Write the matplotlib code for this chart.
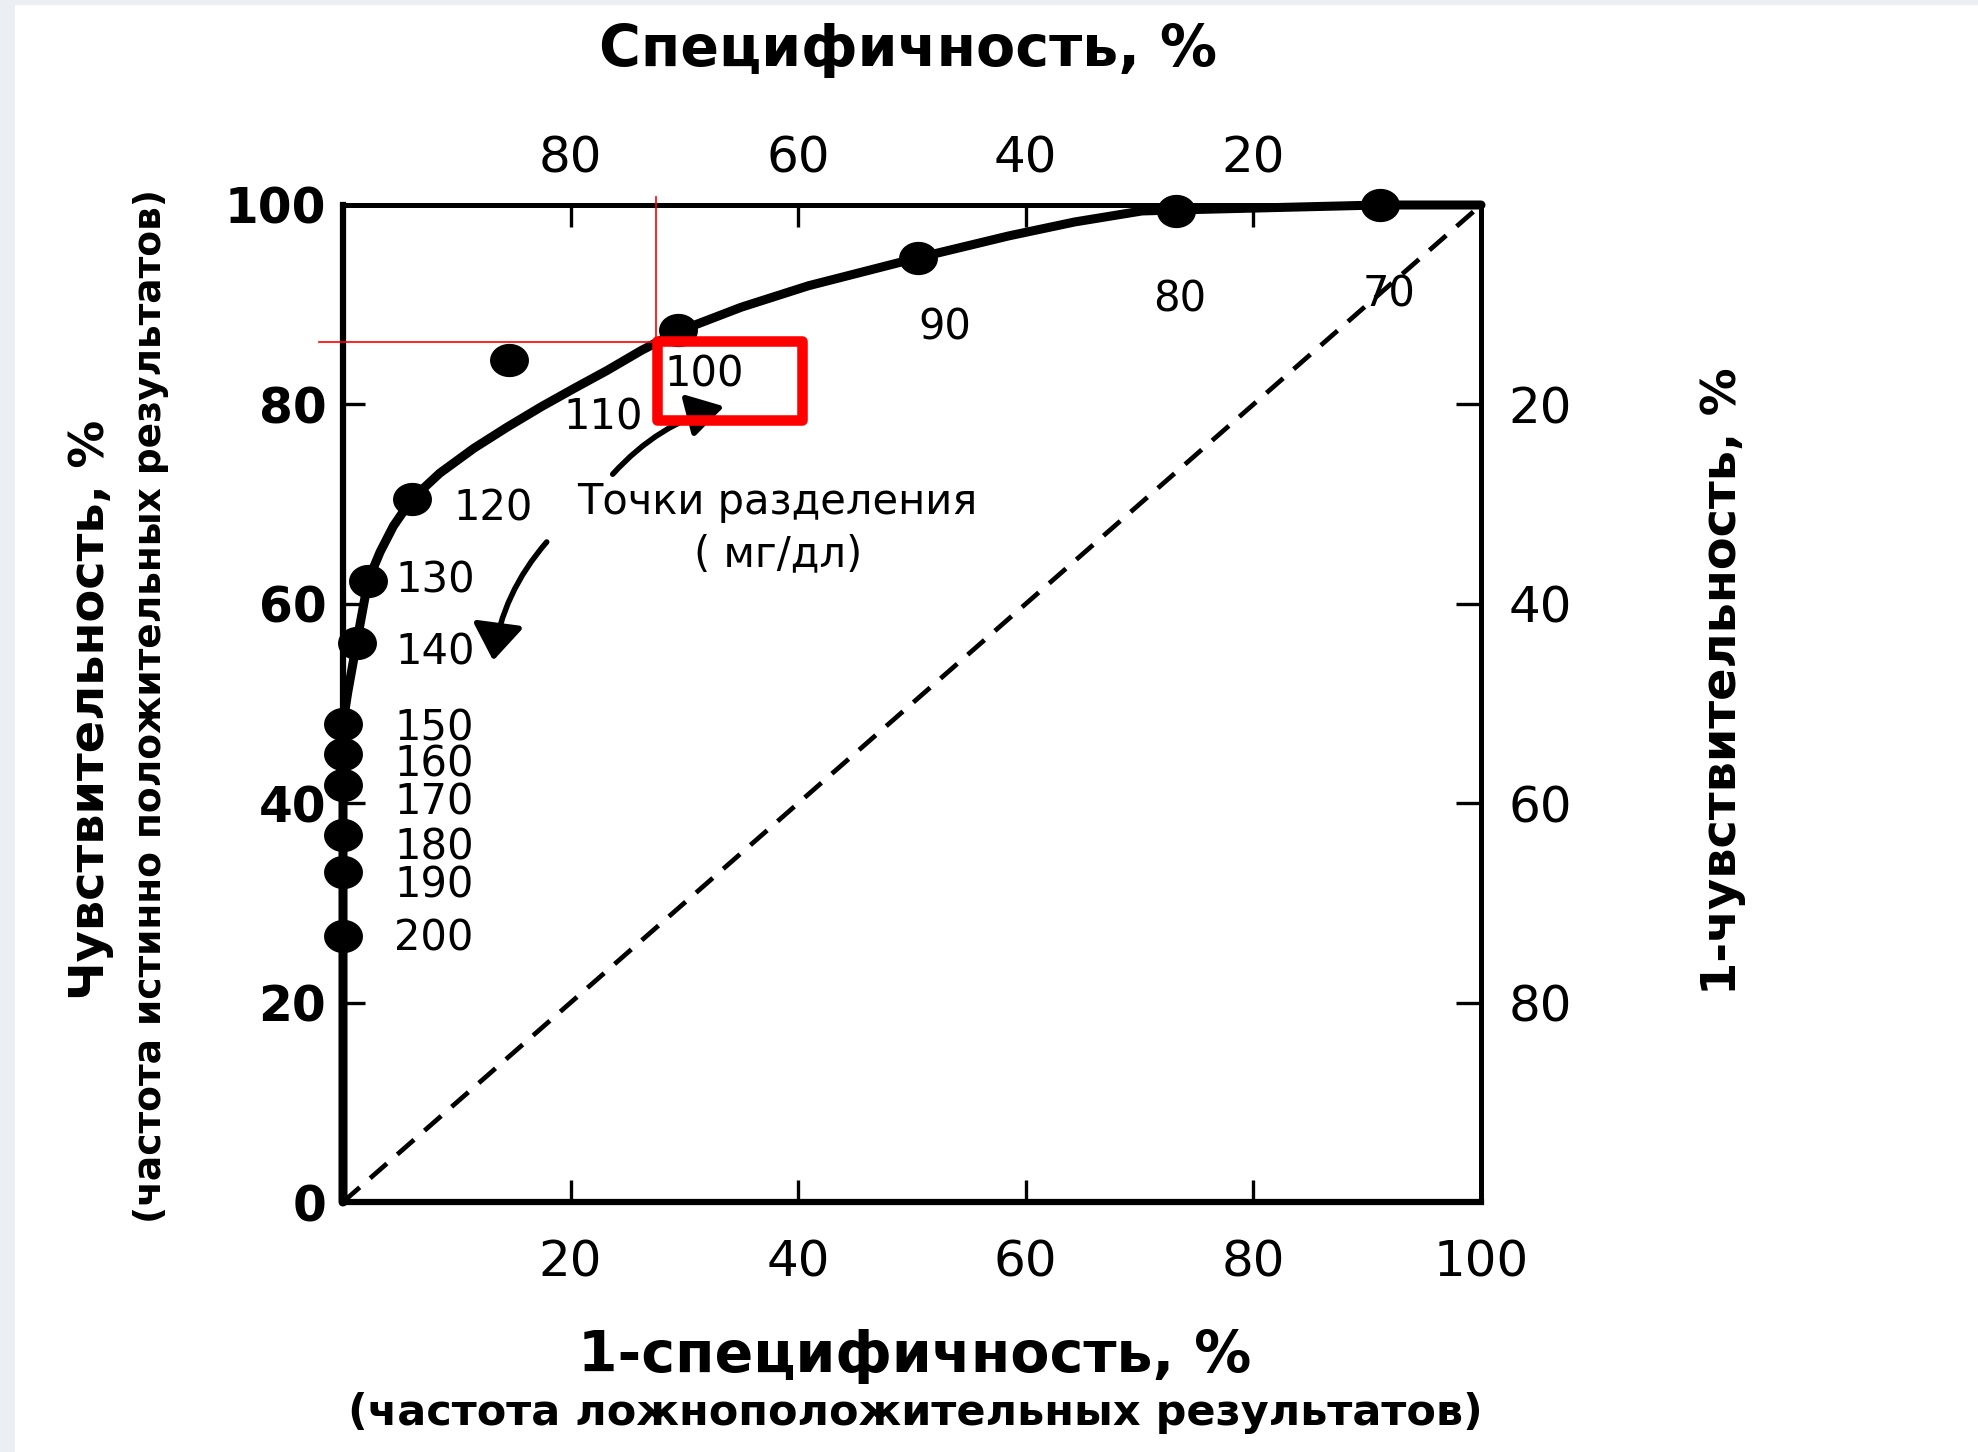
import numpy as np
import matplotlib
matplotlib.use("Agg")
import matplotlib.pyplot as plt
from matplotlib.path import Path
from matplotlib.patches import Rectangle, FancyArrowPatch

plt.rcParams['font.family'] = ['DejaVu Sans']
plt.rcParams['lines.scale_dashes'] = False

# ---------------- data ----------------
cutoffs = [200, 190, 180, 170, 160, 150, 140, 130, 120, 110, 100, 90, 80, 70]
point_fpr = [0, 0, 0, 0, 0, 0, 1.2, 2.2, 6.05, 14.6, 29.4, 50.5, 73.2, 91.1]
point_sens = [26.7, 33.1, 36.8, 41.8, 44.9, 47.9, 56.1, 62.3, 70.5, 84.5, 87.5, 94.7, 99.4, 100]

curve_fpr = [0, 0, 0.4, 1.2, 2.2, 3.26, 4.43, 6.05, 7.37, 8.5, 11.5, 14.4, 17.4, 20.3, 23.2,
             26.2, 29.4, 35.0, 40.9, 50.5, 58.5, 64.3, 70.2, 73.2, 91.1, 100]
curve_sens = [0, 48, 51, 56.1, 62.3, 65.2, 67.8, 70.5, 71.9, 73.1, 75.6, 77.7, 79.75, 81.6, 83.4,
              85.4, 87.3, 89.75, 91.9, 94.7, 96.9, 98.3, 99.4, 99.5, 100, 100]

bottom_ticks = [20, 40, 60, 80, 100]
left_ticks = [0, 20, 40, 60, 80, 100]
top_ticks = [80, 60, 40, 20]
right_ticks = [20, 40, 60, 80]

# ---------------- layout ----------------
label_pos = {200: (8.0, 26.4), 190: (8.0, 31.7), 180: (8.0, 35.6), 170: (8.0, 40.1),
             160: (8.0, 43.9), 150: (8.0, 47.5), 140: (8.1, 55.1), 130: (8.1, 62.3),
             120: (13.2, 69.6), 110: (22.9, 78.7), 100: (31.7, 83.0), 90: (52.9, 87.7),
             80: (73.5, 90.5), 70: (91.9, 91.0)}

W, H = 1978, 1452
fig = plt.figure(figsize=(W / 100, H / 100), dpi=100)
fig.patch.set_facecolor('#ebeff4')
fig.add_artist(Rectangle((15 / W, 0), 1, 1 - 5 / H, transform=fig.transFigure,
                         facecolor='white', edgecolor='none', zorder=-10))

ax = fig.add_axes([343 / W, 1 - 1202 / H, 1138 / W, 997 / H])
ax.patch.set_alpha(0)
ax.set_xlim(0, 100)
ax.set_ylim(0, 100)
for side, lw in [('left', 4.5), ('bottom', 4.5), ('top', 3.6), ('right', 3.6)]:
    ax.spines[side].set_linewidth(lw)
    ax.spines[side].set_color('black')

ax.set_xticks(bottom_ticks)
ax.set_xticklabels([str(t) for t in bottom_ticks])
ax.set_yticks(left_ticks)
ax.set_yticklabels([str(t) for t in left_ticks])
ax.tick_params(axis='x', direction='in', length=16, width=2.4, pad=26, labelsize=36)
ax.tick_params(axis='y', direction='in', length=16, width=2.4, pad=12, labelsize=35)
for lab in ax.get_yticklabels():
    lab.set_fontweight('bold')

secx = ax.secondary_xaxis('top', functions=(lambda x: 100 - x, lambda x: 100 - x))
secx.set_xticks(top_ticks)
secx.set_xticklabels([str(t) for t in top_ticks])
secx.tick_params(direction='in', length=16, width=2.4, pad=16, labelsize=36)
secx.spines['top'].set_linewidth(3.6)

secy = ax.secondary_yaxis('right', functions=(lambda y: 100 - y, lambda y: 100 - y))
secy.set_yticks(right_ticks)
secy.set_yticklabels([str(t) for t in right_ticks])
secy.tick_params(direction='in', length=18, width=2.4, pad=20, labelsize=36)
secy.spines['right'].set_linewidth(3.6)

# chance diagonal
ax.plot([0, 100], [0, 100], color='black', lw=3.4, dashes=(16, 10), zorder=2)

# ROC curve
ax.plot(curve_fpr, curve_sens, color='black', lw=6.5, solid_joinstyle='round',
        solid_capstyle='round', zorder=3, clip_on=False)

theta = np.linspace(0, 2 * np.pi, 64)
dot = Path(np.column_stack([np.cos(theta), 0.85 * np.sin(theta)]), closed=True)
ax.plot(point_fpr, point_sens, linestyle='none', marker=dot, markersize=27,
        color='black', zorder=4, clip_on=False)

for c in cutoffs:
    x, y = label_pos[c]
    ax.text(x, y, str(c), fontsize=30, ha='center', va='center', zorder=5)

ax.text(38.2, 70.2, 'Точки разделения', fontsize=30, ha='center', va='center')
ax.text(38.2, 65.0, '( мг/дл)', fontsize=30, ha='center', va='center')

arr1 = FancyArrowPatch((23.7, 73.0), (33.5, 79.8), connectionstyle='arc3,rad=-0.15',
                       arrowstyle='-|>,head_length=1.0,head_width=0.6', mutation_scale=22,
                       lw=4, color='black', shrinkA=0, shrinkB=0, zorder=5)
arr2 = FancyArrowPatch((17.9, 66.2), (13.2, 54.3), connectionstyle='arc3,rad=0.15',
                       arrowstyle='-|>,head_length=1.0,head_width=0.7', mutation_scale=22,
                       lw=4, color='black', shrinkA=0, shrinkB=0, zorder=5)
ax.add_patch(arr1)
ax.add_patch(arr2)

# red marks drawn over the scan
ax.plot([27.5, 27.5], [86.3, 100.8], color='red', lw=1.2, zorder=7, clip_on=False)
ax.plot([-2.1, 27.5], [86.3, 86.3], color='red', lw=1.2, zorder=7, clip_on=False)
ax.add_patch(Rectangle((27.6, 78.4), 12.7, 8.0, fill=False, edgecolor='red', lw=7.6,
                       joinstyle='round', zorder=7, clip_on=False))

# axis titles
fig.text(908 / W, 1 - 50 / H, 'Специфичность, %', fontsize=41, fontweight='bold',
         ha='center', va='center')
fig.text(91 / W, 1 - 710 / H, 'Чувствительность, %', fontsize=34.5, fontweight='bold',
         rotation=90, ha='center', va='center')
fig.text(151 / W, 1 - 706 / H, '(частота истинно положительных результатов)', fontsize=27,
         fontweight='bold', rotation=90, ha='center', va='center')
fig.text(915 / W, 1 - 1356 / H, '1-специфичность, %', fontsize=41, fontweight='bold',
         ha='center', va='center')
fig.text(915 / W, 1 - 1413 / H, '(частота ложноположительных результатов)', fontsize=31,
         fontweight='bold', ha='center', va='center')
fig.text(1722 / W, 1 - 681 / H, '1-чувствительность, %', fontsize=34.5, fontweight='bold',
         rotation=90, ha='center', va='center')

fig.savefig('out.png', dpi=100)
